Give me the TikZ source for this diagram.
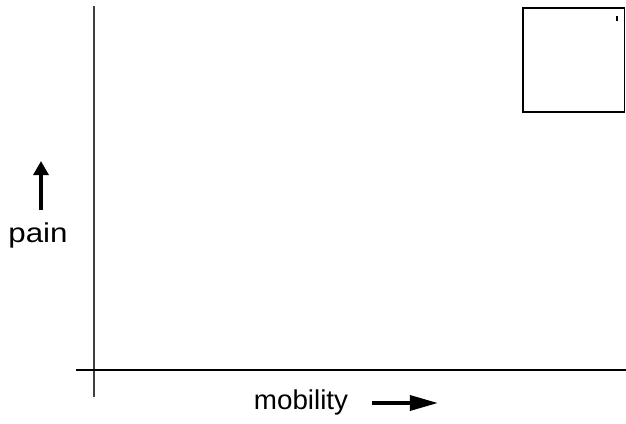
\documentclass[tikz,border=0pt]{standalone}
\usepackage{fontspec}
\setmainfont{Liberation Sans}
\usetikzlibrary{arrows.meta}

\tikzset{
  axis/.style={line width=0.9pt},
  label/.style={font=\fontsize{15.5}{18}\selectfont, inner sep=0pt, anchor=base},
  fatarrow/.style={line width=2.1pt}
}

\begin{document}
\begin{tikzpicture}[x=0.02cm, y=-0.02cm]
\useasboundingbox (0,0) rectangle (626,423);

% axes
\draw[axis, line width=0.6pt, black!75] (94,6) -- (94,397);
\draw[axis] (76,370) -- (626,370);

% region in the upper right
\draw[line width=0.6pt] (523,8) rectangle (624.5,112);
\draw[line width=0.7pt] (617,16) -- (617,21);

% labels
\node[label, xscale=1.15] (pain) at (38,242) {pain};
\node[label, xscale=1.02] (mobility) at (301,409) {mobility};

% direction arrows
\coordinate (up0) at (41,210);
\coordinate (up1) at (41,161);
\coordinate (rt0) at (372,403);
\coordinate (rt1) at (438,403);
\draw[fatarrow, -{Triangle[length=8pt, width=8.5pt]}] (up0) -- (up1);
\draw[fatarrow, -{Triangle[length=16pt, width=8.5pt]}] (rt0) -- (rt1);
\end{tikzpicture}
\end{document}
